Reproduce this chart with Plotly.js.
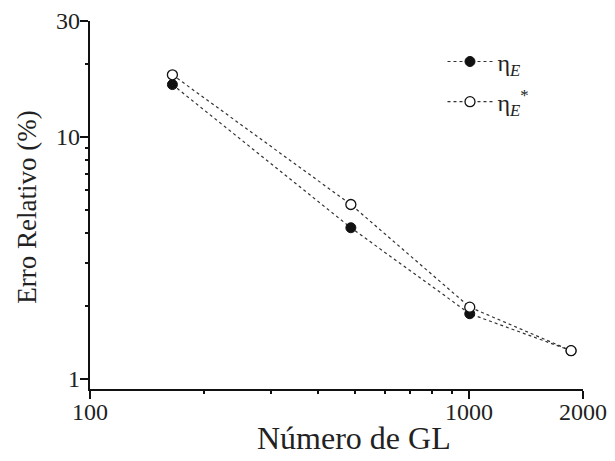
<!DOCTYPE html>
<html>
<head>
<meta charset="utf-8">
<script src="https://cdn.plot.ly/plotly-3.0.1.min.js"></script>
<style>html,body{margin:0;padding:0;background:#fff;}#chart{width:615px;height:461px;}</style>
</head>
<body>
<div id="chart"></div>
<script>
const dof = [165, 488, 1005, 1860];
const etaE = [16.4, 4.21, 1.86, 1.31];
const etaEStar = [18.0, 5.25, 1.98, 1.31];
const xTickVals = [100, 1000, 2000];
const xTickText = ['100', '1000', '2000'];
const xMinorVals = [200, 300, 400, 500, 600, 700, 800, 900];
const yTickVals = [1, 10, 30];
const yTickText = ['1', '10', '30'];
const yMinorVals = [2, 3, 4, 5, 6, 7, 8, 9, 20];
const names = ['η<sub><i>E</i></sub>', 'η<sub><i>E</i></sub><sup>*</sup>'];
const xTitle = 'Número de GL';
const yTitle = 'Erro Relativo (%)';

const font = 'Liberation Serif, DejaVu Serif, serif';
const xRange = [2, Math.log10(2000)];
const yRange = [Math.log10(0.91), Math.log10(30)];
const traces = [
  {x: dof, y: etaE, name: names[0], legendgroup: 'a', mode: 'lines+markers', type: 'scatter',
   line: {color: '#333', width: 1.2, dash: 'dot'},
   marker: {symbol: 'circle', size: 10, color: '#111', line: {color: '#111', width: 1}}},
  {x: dof, y: etaEStar, name: names[1], legendgroup: 'b', mode: 'lines+markers', type: 'scatter',
   line: {color: '#333', width: 1.2, dash: 'dot'},
   marker: {symbol: 'circle', size: 10, color: '#fff', line: {color: '#111', width: 1.3}}},
  {x: dof, y: etaE, xaxis: 'x2', yaxis: 'y2', mode: 'none', type: 'scatter', showlegend: false, hoverinfo: 'skip'}
];
const tickFont = {size: 24, family: font, color: '#222'};
const xTickAnn = xTickVals.map((v, i) => ({
  text: xTickText[i], xref: 'x', yref: 'paper', x: Math.log10(v), y: 0,
  xanchor: 'center', yanchor: 'top', yshift: -8, showarrow: false, font: tickFont}));
const yTickAnn = yTickVals.map((v, i) => ({
  text: yTickText[i], xref: 'paper', yref: 'y', x: 0, y: Math.log10(v),
  xanchor: 'right', yanchor: 'middle', xshift: -8, showarrow: false, font: tickFont}));
const axBase = {showgrid: false, zeroline: false, tickcolor: '#111', tickwidth: 2, showticklabels: false};
const layout = {
  width: 615, height: 461,
  margin: {l: 90, r: 32, t: 21, b: 72},
  paper_bgcolor: '#fff', plot_bgcolor: '#fff',
  font: {family: font, color: '#222', size: 24},
  showlegend: true,
  legend: {x: 0.715, y: 0.95, xanchor: 'left', yanchor: 'top', bgcolor: 'rgba(0,0,0,0)',
           font: {size: 24, family: font}, tracegroupgap: 6, itemwidth: 45},
  xaxis: Object.assign({}, axBase, {type: 'log', range: xRange,
          showline: true, linecolor: '#111', linewidth: 2,
          ticks: 'outside', ticklen: 8, tickmode: 'array', tickvals: xTickVals}),
  yaxis: Object.assign({}, axBase, {type: 'log', range: yRange,
          showline: true, linecolor: '#111', linewidth: 2,
          ticks: 'outside', ticklen: 8, tickmode: 'array', tickvals: yTickVals}),
  xaxis2: Object.assign({}, axBase, {type: 'log', range: xRange, overlaying: 'x', anchor: 'y2', side: 'bottom',
          showline: false, ticks: 'outside', ticklen: 4, tickmode: 'array', tickvals: xMinorVals}),
  yaxis2: Object.assign({}, axBase, {type: 'log', range: yRange, overlaying: 'y', anchor: 'x2', side: 'left',
          showline: false, ticks: 'outside', ticklen: 4, tickmode: 'array', tickvals: yMinorVals}),
  annotations: [
    {text: xTitle, xref: 'paper', yref: 'paper', x: 0.535, y: -0.133, xanchor: 'center', yanchor: 'middle',
     showarrow: false, font: {size: 32, family: font, color: '#222'}},
    {text: yTitle, xref: 'paper', yref: 'paper', x: -0.128, y: 0.495, xanchor: 'center', yanchor: 'middle',
     textangle: -90, showarrow: false, font: {size: 27, family: font, color: '#222'}}
  ].concat(xTickAnn, yTickAnn)
};
Plotly.newPlot('chart', traces, layout, {displayModeBar: false, staticPlot: true});
</script>
</body>
</html>
